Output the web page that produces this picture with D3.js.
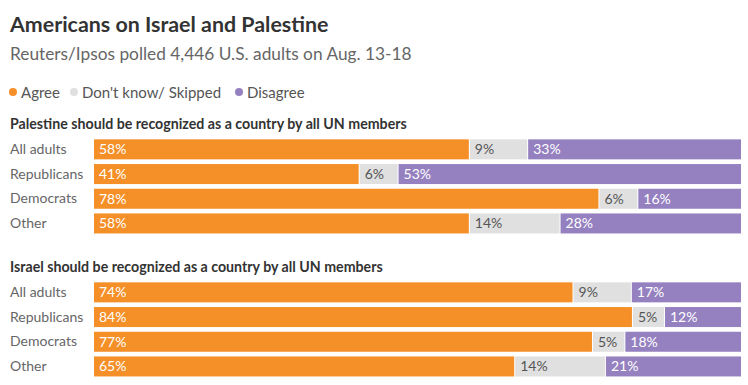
<!DOCTYPE html>
<html>
<head>
<meta charset="utf-8">
<style>
	body { margin: 0; background: white; }
	svg { font-family: Lato, "Open Sans", sans-serif; }
	.title { font-size: 21.4px; font-weight: 700; fill: #333; }
	.subtitle { font-size: 17.3px; fill: #666; }
	.legend text { font-size: 15px; fill: #555; }
	.panel-title { font-size: 14.2px; font-weight: 700; fill: #333; }
	.cat { font-size: 14px; fill: #666; }
	.val { font-size: 14px; }
</style>
</head>
<body>
<svg width="748" height="385"></svg>

<script src="https://cdnjs.cloudflare.com/ajax/libs/d3/7.8.5/d3.min.js"></script>
<script>
const width = 748;
const height = 385;

const groups = ["All adults", "Republicans", "Democrats", "Other"];
const keys = ["agree", "dontKnow", "disagree"];
const legendLabels = ["Agree", "Don't know/ Skipped", "Disagree"];

const palestineAgree = [58, 41, 78, 58];
const palestineDontKnow = [9, 6, 6, 14];
const palestineDisagree = [33, 53, 16, 28];

const israelAgree = [74, 84, 77, 65];
const israelDontKnow = [9, 5, 5, 14];
const israelDisagree = [17, 12, 18, 21];

const panels = [
	{ title: "Palestine should be recognized as a country by all UN members", top: 137,
	  rows: groups.map((g, i) => ({ group: g, agree: palestineAgree[i], dontKnow: palestineDontKnow[i], disagree: palestineDisagree[i] })) },
	{ title: "Israel should be recognized as a country by all UN members", top: 280,
	  rows: groups.map((g, i) => ({ group: g, agree: israelAgree[i], dontKnow: israelDontKnow[i], disagree: israelDisagree[i] })) }
];

var color = d3.scaleOrdinal().domain(keys).range(["#f58f27", "#e0e0e0", "#9581c0"]);
var textColor = d3.scaleOrdinal().domain(keys).range(["#fff", "#555", "#fff"]);

var svg = d3.select("svg");

svg.append("text").attr("class", "title").attr("x", 10).attr("y", 32)
	.text("Americans on Israel and Palestine");
svg.append("text").attr("class", "subtitle").attr("x", 10).attr("y", 60)
	.text("Reuters/Ipsos polled 4,446 U.S. adults on Aug. 13-18");

// legend
var legend = svg.append("g").attr("class", "legend");
var legendX = [13, 74, 239];
keys.forEach(function(k, i) {
	var g = legend.append("g").attr("transform", "translate(" + legendX[i] + ",92)");
	g.append("circle").attr("r", 4).attr("fill", color(k));
	g.append("text").attr("x", 8).attr("y", 5.5).text(legendLabels[i]);
});

var x = d3.scaleLinear().domain([0, 1]).range([94, 742]);
var stack = d3.stack().keys(keys).offset(d3.stackOffsetExpand);

panels.forEach(function(p) {
	var y = d3.scaleBand().domain(groups).range([p.top, p.top + 4 * 24.7]).paddingInner(0.19).paddingOuter(0.095);

	svg.append("text").attr("class", "panel-title").attr("x", 10).attr("y", p.top - 8).text(p.title);

	svg.selectAll(null)
		.data(groups)
		.enter()
		.append("text")
			.attr("class", "cat")
			.attr("x", 10)
			.attr("y", d => y(d) + y.bandwidth() / 2 + 4.5)
			.text(d => d);

	var series = stack(p.rows);

	var layer = svg.append("g").selectAll("g")
		.data(series)
		.enter()
		.append("g")
			.attr("fill", d => color(d.key));

	layer.selectAll("rect")
		.data(d => d.map(v => Object.assign(v, { key: d.key })))
		.enter()
		.append("rect")
			.attr("x", d => x(d[0]))
			.attr("y", d => y(d.data.group))
			.attr("width", d => x(d[1]) - x(d[0]) - 1)
			.attr("height", y.bandwidth());

	layer.selectAll("text")
		.data(d => d)
		.enter()
		.append("text")
			.attr("class", "val")
			.attr("x", d => x(d[0]) + 5)
			.attr("y", d => y(d.data.group) + y.bandwidth() / 2 + 5)
			.attr("fill", d => textColor(d.key))
			.text(d => d.data[d.key] + "%");
});
</script>
</body>
</html>
